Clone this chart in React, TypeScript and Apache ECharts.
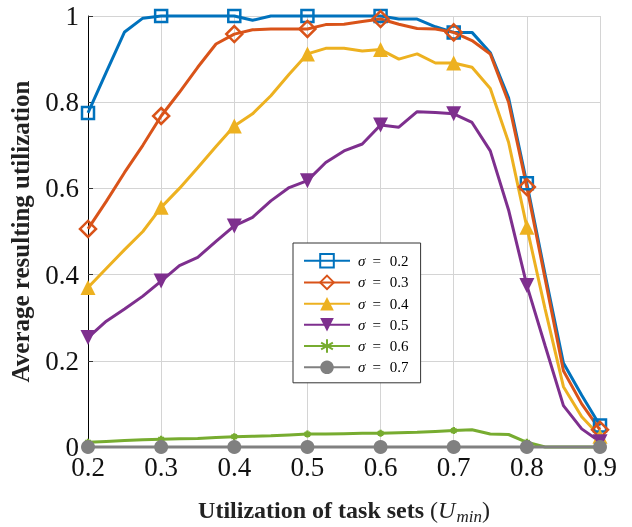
import React, { useEffect, useRef } from 'react';
import * as echarts from 'echarts';

const xValues = [0.2, 0.225, 0.25, 0.275, 0.3, 0.325, 0.35, 0.375, 0.4, 0.425, 0.45, 0.475, 0.5, 0.525, 0.55, 0.575, 0.6, 0.625, 0.65, 0.675, 0.7, 0.725, 0.75, 0.775, 0.8, 0.825, 0.85, 0.875, 0.9];

const sigma02 = [0.775, 0.87, 0.963, 0.995, 1.0, 1.0, 1.0, 1.0, 1.0, 0.99, 1.0, 1.0, 1.0, 1.0, 1.0, 1.0, 1.0, 0.993, 0.993, 0.975, 0.962, 0.962, 0.915, 0.81, 0.612, 0.4, 0.195, 0.12, 0.05];
const sigma03 = [0.506, 0.57, 0.637, 0.7, 0.768, 0.823, 0.881, 0.935, 0.958, 0.968, 0.97, 0.97, 0.97, 0.98, 0.981, 0.987, 0.993, 0.981, 0.971, 0.97, 0.962, 0.943, 0.912, 0.8, 0.603, 0.39, 0.177, 0.1, 0.04];
const sigma04 = [0.37, 0.414, 0.458, 0.5, 0.556, 0.6, 0.648, 0.697, 0.745, 0.773, 0.815, 0.865, 0.912, 0.925, 0.925, 0.919, 0.922, 0.9, 0.912, 0.891, 0.891, 0.881, 0.832, 0.707, 0.51, 0.32, 0.14, 0.07, 0.025];
const sigma05 = [0.254, 0.292, 0.32, 0.35, 0.385, 0.421, 0.44, 0.477, 0.513, 0.533, 0.571, 0.602, 0.618, 0.66, 0.687, 0.703, 0.747, 0.742, 0.778, 0.776, 0.773, 0.753, 0.687, 0.55, 0.375, 0.235, 0.096, 0.042, 0.012];
const sigma06 = [0.011, 0.013, 0.015, 0.017, 0.018, 0.019, 0.02, 0.022, 0.024, 0.025, 0.026, 0.028, 0.03, 0.03, 0.031, 0.032, 0.032, 0.033, 0.034, 0.036, 0.038, 0.04, 0.03, 0.029, 0.011, 0, 0, 0, 0];
const sigma07 = [0, 0, 0, 0, 0, 0, 0, 0, 0, 0, 0, 0, 0, 0, 0, 0, 0, 0, 0, 0, 0, 0, 0, 0, 0, 0, 0, 0, 0];

const seriesNames = ['σ = 0.2', 'σ = 0.3', 'σ = 0.4', 'σ = 0.5', 'σ = 0.6', 'σ = 0.7'];
const seriesValues = [sigma02, sigma03, sigma04, sigma05, sigma06, sigma07];

const FONT = "'Liberation Serif', 'DejaVu Serif', serif";
const colors = ['#0072BD', '#D95319', '#EDB120', '#7E2F8E', '#77AC30', '#808080'];
const asterisk = 'path://M5,0L5,10M0.67,2.5L9.33,7.5M0.67,7.5L9.33,2.5M0,5L10,5';
const markers = [
  { symbol: 'rect', size: 12, fill: 'rgba(255,255,255,0)', border: 2.5, rotate: 0 },
  { symbol: 'diamond', size: 16, fill: 'rgba(255,255,255,0)', border: 2.5, rotate: 0 },
  { symbol: 'triangle', size: 15, fill: null, border: 0, rotate: 0 },
  { symbol: 'triangle', size: 15, fill: null, border: 0, rotate: 180 },
  { symbol: asterisk, size: 7, fill: null, border: 2.5, rotate: 0 },
  { symbol: 'circle', size: 14, fill: null, border: 0, rotate: 0 },
];

export default function App() {
  const ref = useRef<HTMLDivElement>(null);
  useEffect(() => {
    const chart = echarts.init(ref.current!, null, { renderer: 'svg' });
    const series = seriesValues.map((vals, si) => {
      const m = markers[si];
      const c = colors[si];
      return {
        type: 'line',
        name: seriesNames[si],
        symbol: m.symbol,
        symbolSize: m.size,
        symbolRotate: m.rotate,
        showAllSymbol: true,
        clip: false,
        lineStyle: { color: c, width: 3 },
        itemStyle: {
          color: m.fill === null ? c : m.fill,
          borderColor: c,
          borderWidth: m.border,
        },
        emphasis: { disabled: true },
        data: xValues.map((x, i) => ({
          value: [x, vals[i]],
          symbol: i % 4 === 0 ? m.symbol : 'none',
        })),
      };
    });
    chart.setOption({
      animation: false,
      textStyle: { fontFamily: FONT },
      grid: { left: 88, right: 32, top: 16, bottom: 80, containLabel: false, outerBoundsMode: 'none' },
      legend: {
        left: 293,
        top: 243,
        orient: 'vertical',
        itemWidth: 46,
        itemHeight: 17,
        itemGap: 6,
        padding: [10, 12, 8, 10],
        borderColor: '#333',
        borderWidth: 1,
        backgroundColor: '#fff',
        data: seriesNames,
        formatter: (name: string) => `{s|σ}{e|=}{n|${name.split('= ')[1]}}`,
        textStyle: {
          fontFamily: FONT,
          color: '#000',
          rich: {
            s: { fontFamily: FONT, fontStyle: 'italic', fontSize: 15, color: '#000', padding: [0, 0, 0, 3] },
            e: { fontFamily: FONT, fontSize: 15, color: '#000', padding: [0, 9, 0, 7] },
            n: { fontFamily: FONT, fontSize: 15, color: '#000' },
          },
        },
      },
      xAxis: {
        type: 'value',
        min: 0.2,
        max: 0.9,
        interval: 0.1,
        name: '{b|Utilization of task sets }{p|(}{i|U}{sub|min}{p|)}',
        nameLocation: 'middle',
        nameGap: 47,
        nameTextStyle: {
          rich: {
            b: { fontFamily: FONT, fontSize: 24, fontWeight: 'bold', color: '#222' },
            p: { fontFamily: FONT, fontSize: 24, color: '#222' },
            i: { fontFamily: FONT, fontSize: 24, fontStyle: 'italic', color: '#222' },
            sub: { fontFamily: FONT, fontSize: 17, fontStyle: 'italic', color: '#222', padding: [14, 0, 0, 1] },
          },
        },
        axisLine: { show: true, lineStyle: { color: '#000', width: 1 } },
        axisTick: { show: true, inside: true, length: 5, lineStyle: { color: '#333' } },
        axisLabel: {
          margin: 6,
          fontSize: 27,
          fontFamily: FONT,
          color: '#111',
          formatter: (v: number) => v.toFixed(1),
        },
        splitLine: { show: true, lineStyle: { color: '#d4d4d4', width: 1 } },
      },
      yAxis: {
        type: 'value',
        min: 0,
        max: 1,
        interval: 0.2,
        name: 'Average resulting utilization',
        nameLocation: 'middle',
        nameGap: 55,
        nameTextStyle: { fontFamily: FONT, fontSize: 25, fontWeight: 'bold', color: '#222' },
        axisLine: { show: true, lineStyle: { color: '#000', width: 1 } },
        axisTick: { show: true, inside: true, length: 5, lineStyle: { color: '#333' } },
        axisLabel: {
          margin: 9,
          fontSize: 27,
          fontFamily: FONT,
          color: '#111',
          formatter: (v: number) => (v === 0 || v === 1 ? String(v) : v.toFixed(1)),
        },
        splitLine: { show: true, lineStyle: { color: '#d4d4d4', width: 1 } },
      },
      series,
    } as any);
    return () => chart.dispose();
  }, []);
  return <div ref={ref} style={{ position: 'fixed', left: 0, top: 0, width: 632, height: 527 }} />;
}
